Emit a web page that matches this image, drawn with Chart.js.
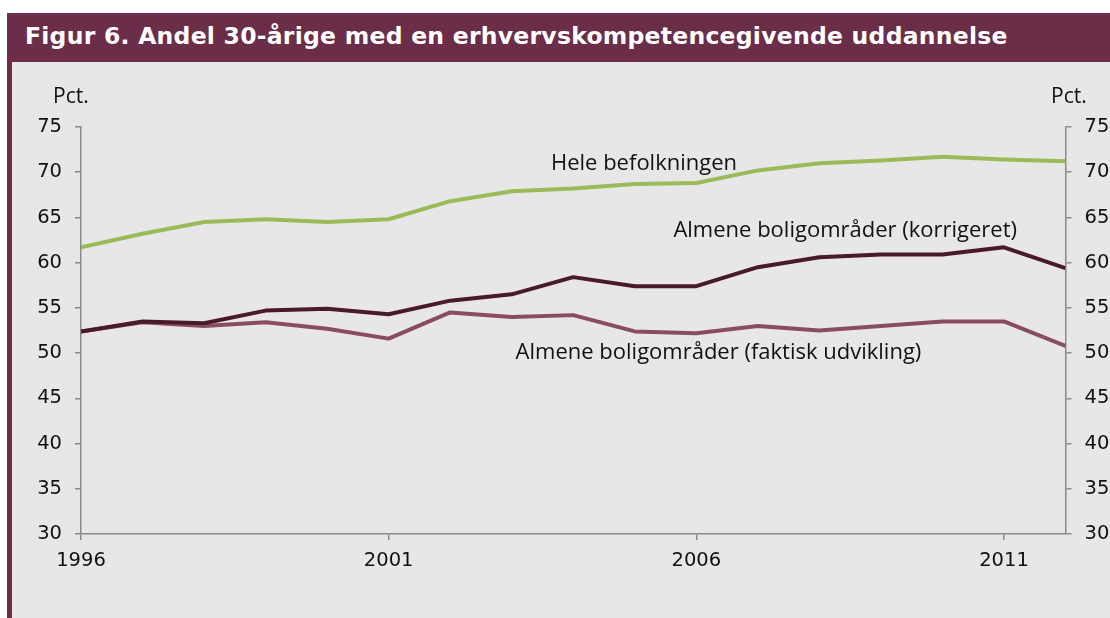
<!DOCTYPE html>
<html lang="da">
<head>
  <meta charset="UTF-8" />
  <title>Figur 6</title>
  <script src="https://cdn.jsdelivr.net/npm/chart.js"></script>
  <style>
    body {
      margin: 0;
      background: #ffffff;
      width: 1110px;
      height: 618px;
      overflow: hidden;
      position: relative;
    }
    .panel {
      position: absolute;
      left: 7px;
      top: 13px;
      width: 1098px;
      height: 605px;
      background: #e7e7e7;
      border-left: 5px solid #6c2d48;
    }
    .title {
      height: 49px;
      margin-left: -5px;
      background: #6c2d48;
      color: #ffffff;
      font-family: 'DejaVu Sans', sans-serif;
      font-weight: bold;
      font-size: 23.5px;
      letter-spacing: 0.25px;
      line-height: 47px;
      padding-left: 18px;
      white-space: nowrap;
    }
    .chart-box {
      position: absolute;
      left: 0;
      top: 49px;
      width: 1098px;
      height: 556px;
    }
  </style>
</head>
<body>
  <div class="panel">
    <div class="title">Figur 6. Andel 30-årige med en erhvervskompetencegivende uddannelse</div>
    <div class="chart-box">
      <canvas id="chart" width="1098" height="556"></canvas>
    </div>
  </div>
  <script>
    // Data
    const years = [1996, 1997, 1998, 1999, 2000, 2001, 2002, 2003, 2004, 2005, 2006, 2007, 2008, 2009, 2010, 2011, 2012];
    const heleBefolkningen = [61.7, 63.2, 64.5, 64.8, 64.5, 64.8, 66.8, 67.9, 68.2, 68.7, 68.8, 70.2, 71.0, 71.3, 71.7, 71.4, 71.2];
    const korrigeret = [52.4, 53.5, 53.3, 54.7, 54.9, 54.3, 55.8, 56.5, 58.4, 57.4, 57.4, 59.5, 60.6, 60.9, 60.9, 61.7, 59.4];
    const faktisk = [52.4, 53.4, 53.0, 53.4, 52.7, 51.6, 54.5, 54.0, 54.2, 52.4, 52.2, 53.0, 52.5, 53.0, 53.5, 53.5, 50.8];
    const seriesNames = ['Hele befolkningen', 'Almene boligområder (korrigeret)', 'Almene boligområder (faktisk udvikling)'];
    const xTicks = [1996, 2001, 2006, 2011];
    const yMin = 30, yMax = 75, yStep = 5;
    const unitLabel = 'Pct.';

    const colors = ['#9bbb59', '#4a1a2c', '#8a4c63'];
    const axisColor = '#8a8a8a';

    // placering af tekstetiketter (i dataværdier)
    const labelAnchors = [
      { x: 2005.15, y: 70.2 },
      { x: 2008.42, y: 62.85 },
      { x: 2006.36, y: 49.3 }
    ];

    const toPoints = vals => years.map((yr, i) => ({ x: yr, y: vals[i] }));

    const labelPlugin = {
      id: 'labels',
      afterDraw(chart) {
        const ctx = chart.ctx;
        const xs = chart.scales.x;
        const ys = chart.scales.y;
        ctx.save();
        ctx.fillStyle = '#111111';
        ctx.font = '22px "Open Sans", sans-serif';
        ctx.textAlign = 'center';
        ctx.textBaseline = 'alphabetic';
        seriesNames.forEach((name, i) => {
          const a = labelAnchors[i];
          ctx.fillText(name, xs.getPixelForValue(a.x), ys.getPixelForValue(a.y));
        });
        // Pct. over begge akser
        ctx.font = '21px "Open Sans", sans-serif';
        ctx.textAlign = 'left';
        const top = ys.getPixelForValue(yMax);
        ctx.fillText(unitLabel, ys.left + 41, top - 24);
        ctx.fillText(unitLabel, chart.scales.y2.left - 14.5, top - 24);
        ctx.restore();
      }
    };

    const axisBase = {
      min: yMin,
      max: yMax,
      border: { color: axisColor, width: 1.5 },
      grid: { drawOnChartArea: false, tickLength: 6, color: axisColor, lineWidth: 1.5 },
      ticks: {
        stepSize: yStep,
        padding: 13,
        color: '#111111',
        font: { family: 'DejaVu Sans', size: 19.5 }
      }
    };

    new Chart(document.getElementById('chart'), {
      type: 'line',
      data: {
        datasets: [
          { label: seriesNames[0], data: toPoints(heleBefolkningen), borderColor: colors[0] },
          { label: seriesNames[1], data: toPoints(korrigeret), borderColor: colors[1] },
          { label: seriesNames[2], data: toPoints(faktisk), borderColor: colors[2] }
        ]
      },
      options: {
        responsive: false,
        animation: false,
        layout: { padding: { top: 65, left: 0, right: 0, bottom: 0 } },
        elements: {
          line: { borderWidth: 4, tension: 0, borderJoinStyle: 'round' },
          point: { radius: 0 }
        },
        plugins: {
          legend: { display: false },
          tooltip: { enabled: false }
        },
        scales: {
          x: {
            type: 'linear',
            min: years[0],
            max: years[years.length - 1],
            border: { color: axisColor, width: 1.5 },
            grid: { drawOnChartArea: false, tickLength: 6, color: axisColor, lineWidth: 1.5 },
            afterBuildTicks: s => { s.ticks = xTicks.map(v => ({ value: v })); },
            afterFit: s => { s.height = 84; },
            ticks: {
              padding: 9,
              maxRotation: 0,
              autoSkip: false,
              color: '#111111',
              font: { family: 'DejaVu Sans', size: 19.5 },
              callback: v => String(v)
            }
          },
          y: Object.assign({}, axisBase, {
            position: 'left',
            afterFit: s => { s.width = 69; }
          }),
          y2: Object.assign({}, axisBase, {
            position: 'right',
            afterFit: s => { s.width = 44.5; }
          })
        }
      },
      plugins: [labelPlugin]
    });
  </script>
</body>
</html>
